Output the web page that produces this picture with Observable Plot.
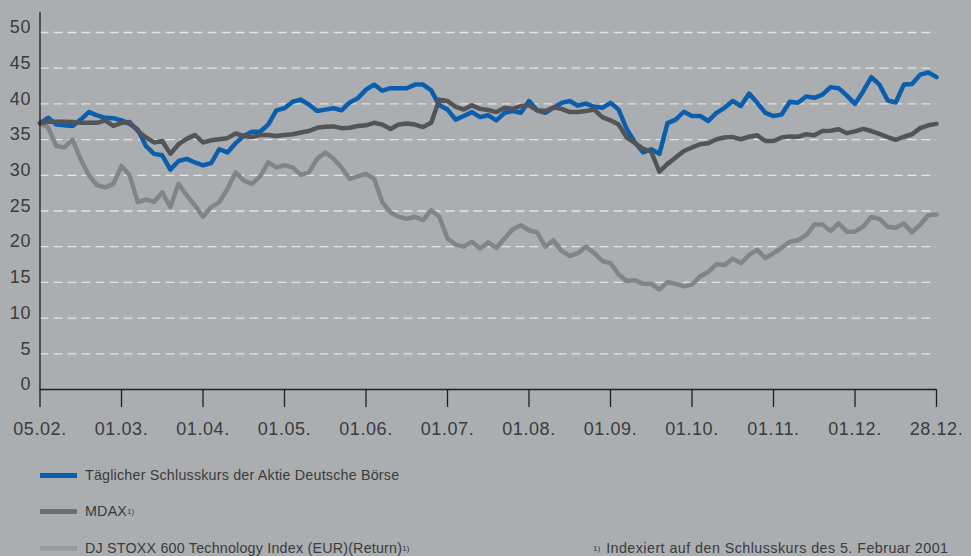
<!DOCTYPE html>
<html><head><meta charset="utf-8">
<script src="https://cdn.jsdelivr.net/npm/d3@7"></script>
<script src="https://cdn.jsdelivr.net/npm/@observablehq/plot@0.6"></script>
<style>
html,body{margin:0;padding:0;background:#abaeb1;}
#wrap{position:relative;width:971px;height:556px;overflow:hidden;font-family:"Liberation Sans",Arial,sans-serif;color:#3a3b3d;}
#chart{position:absolute;left:0;top:0;}
#chart svg text{letter-spacing:0.6px;}
.leg{position:absolute;left:40px;height:20px;display:flex;align-items:center;font-size:14.3px;white-space:nowrap;letter-spacing:0.2px;}
.sw{width:37px;height:5px;margin-right:8px;}
.note{position:absolute;left:593px;height:20px;display:flex;align-items:center;font-size:14.3px;white-space:nowrap;letter-spacing:0.45px;}
sup{font-size:8px;vertical-align:5px;letter-spacing:0;}
</style></head><body>
<div id="wrap"><div id="chart"></div><div id="legend"></div></div>
<script>
const tickLabels = ["05.02.","01.03.","01.04.","01.05.","01.06.","01.07.","01.08.","01.09.","01.10.","01.11.","01.12.","28.12."];
const yTicks = [0,5,10,15,20,25,30,35,40,45,50];
const seriesNames = ["Täglicher Schlusskurs der Aktie Deutsche Börse","MDAX","DJ STOXX 600 Technology Index (EUR)(Return)"];
const seriesNotes = ["", "1)", "1)"];
const footnote = "Indexiert auf den Schlusskurs des 5. Februar 2001";

const deutscheBoerse = [37.3,38.05,37.1,37.0,36.9,37.8,38.85,38.4,38.05,38.0,
 37.7,37.2,36.4,34.1,33.0,32.8,30.8,32.0,32.3,31.8,
 31.4,31.7,33.65,33.2,34.5,35.5,36.1,36.1,37.1,39.1,
 39.4,40.3,40.6,39.9,39.0,39.2,39.4,39.1,40.2,40.8,
 42.0,42.7,41.85,42.2,42.2,42.2,42.7,42.7,41.9,39.8,
 39.2,37.8,38.3,38.85,38.15,38.4,37.7,38.75,39.0,38.75,
 40.4,39.1,38.75,39.45,40.15,40.4,39.75,40.05,39.6,39.45,
 40.15,39.2,36.45,34.6,33.2,33.65,33.0,37.3,37.8,38.9,
 38.3,38.3,37.6,38.75,39.45,40.4,39.7,41.45,40.15,38.75,
 38.3,38.5,40.3,40.15,41.05,40.85,41.3,42.35,42.2,41.15,
 40.0,41.75,43.75,42.7,40.5,40.2,42.7,42.8,44.1,44.4,
 43.75];
const mdax = [37.3,37.5,37.5,37.5,37.45,37.35,37.35,37.35,37.7,36.9,
 37.35,37.45,36.2,35.3,34.6,34.8,33.0,34.35,35.1,35.65,
 34.6,34.9,35.05,35.2,35.85,35.5,35.35,35.65,35.65,35.5,
 35.65,35.75,36.0,36.2,36.65,36.8,36.85,36.6,36.65,36.9,
 37.0,37.35,37.1,36.5,37.1,37.25,37.1,36.75,37.35,40.6,
 40.4,39.6,39.2,39.8,39.3,39.15,38.85,39.45,39.3,39.7,
 39.8,39.1,39.0,39.5,39.3,38.85,38.85,39.0,39.2,38.15,
 37.7,37.1,35.3,34.5,33.75,33.3,30.5,31.6,32.5,33.4,
 33.9,34.35,34.5,35.05,35.3,35.35,35.05,35.4,35.6,34.8,
 34.8,35.3,35.45,35.4,35.75,35.6,36.2,36.25,36.45,35.9,
 36.15,36.5,36.2,35.8,35.35,34.95,35.4,35.75,36.6,37.0,
 37.2];
const stoxxTech = [37.3,36.7,34.1,33.9,35.0,32.2,30.0,28.6,28.3,28.8,
 31.3,30.0,26.25,26.6,26.3,27.6,25.55,28.8,27.2,25.8,
 24.2,25.55,26.25,28.1,30.4,29.25,28.8,29.85,31.8,31.1,
 31.4,31.1,30.05,30.4,32.3,33.2,32.35,31.1,29.5,29.85,
 30.2,29.5,26.25,24.8,24.2,23.9,24.2,23.7,25.1,24.2,
 21.15,20.3,20.0,20.7,19.75,20.6,19.85,21.15,22.45,23.0,
 22.3,22.0,20.0,20.9,19.4,18.7,19.1,20.0,19.1,18.0,
 17.7,16.1,15.2,15.3,14.8,14.8,14.0,15.05,14.8,14.45,
 14.7,15.85,16.45,17.55,17.45,18.3,17.7,18.85,19.55,18.4,
 19.1,19.85,20.7,20.9,21.6,23.1,23.1,22.2,23.25,22.1,
 22.1,22.8,24.15,23.9,22.8,22.65,23.25,22.0,23.1,24.4,
 24.5];

const lineColors = ["#0a5eac","#535457","#838486"];
const swatchColors = ["#0a5eac","#6d6e71","#999a9c"];
const fontFamily = '"Liberation Sans", Arial, sans-serif';

const n = deutscheBoerse.length;
const step = (n - 1) / (tickLabels.length - 1);
const tickPos = tickLabels.map((_, k) => k * step);
const toRows = arr => arr.map((v, i) => ({i, v}));
const yTop = 52.8;

const chart = Plot.plot({
  width: 971, height: 450,
  marginLeft: 39.5, marginRight: 35, marginTop: 12, marginBottom: 61,
  style: {background: "transparent", fontFamily, fontSize: "18px", color: "#3a3b3d", overflow: "visible"},
  x: {domain: [0, n - 1], axis: null},
  y: {domain: [0, yTop], axis: null},
  marks: [
    Plot.ruleY(yTicks.filter(v => v > 0), {stroke: "#e2e3e5", strokeWidth: 1.3, strokeDasharray: "9,5"}),
    Plot.line(toRows(stoxxTech), {x: "i", y: "v", stroke: lineColors[2], strokeWidth: 4.5, strokeLinejoin: "round"}),
    Plot.line(toRows(deutscheBoerse), {x: "i", y: "v", stroke: lineColors[0], strokeWidth: 4.5, strokeLinejoin: "round"}),
    Plot.line(toRows(mdax), {x: "i", y: "v", stroke: lineColors[1], strokeWidth: 4.5, strokeLinejoin: "round"}),
    Plot.ruleX([0], {y1: 0, y2: yTop, stroke: "#1e1e1e", strokeWidth: 1.3}),
    Plot.ruleY([0], {stroke: "#1e1e1e", strokeWidth: 1.3}),
    Plot.axisX({ticks: tickPos, tickFormat: d => tickLabels[Math.round(d / step)], tickSize: 18, tickPadding: 15,
      stroke: "#1e1e1e", strokeWidth: 1.3, fill: "#3a3b3d", fontSize: 18, label: null}),
    Plot.axisY({ticks: yTicks, tickSize: 0, tickPadding: 9, dy: -5, fill: "#3a3b3d", fontSize: 18, label: null})
  ]
});
document.getElementById("chart").appendChild(chart);

const legend = document.getElementById("legend");
const rowY = [465, 501, 538];
seriesNames.forEach((name, k) => {
  const d = document.createElement("div");
  d.className = "leg";
  d.style.top = rowY[k] + "px";
  const sw = document.createElement("span");
  sw.className = "sw";
  sw.style.background = swatchColors[k];
  d.appendChild(sw);
  const t = document.createElement("span");
  t.textContent = name;
  d.appendChild(t);
  if (seriesNotes[k]) {
    const s = document.createElement("sup");
    s.textContent = seriesNotes[k];
    d.appendChild(s);
  }
  legend.appendChild(d);
});
const note = document.createElement("div");
note.className = "note";
note.style.top = rowY[2] + "px";
const ns = document.createElement("sup");
ns.textContent = "1)";
ns.style.marginRight = "6px";
note.appendChild(ns);
const nt = document.createElement("span");
nt.textContent = footnote;
note.appendChild(nt);
legend.appendChild(note);
</script>
</body></html>
